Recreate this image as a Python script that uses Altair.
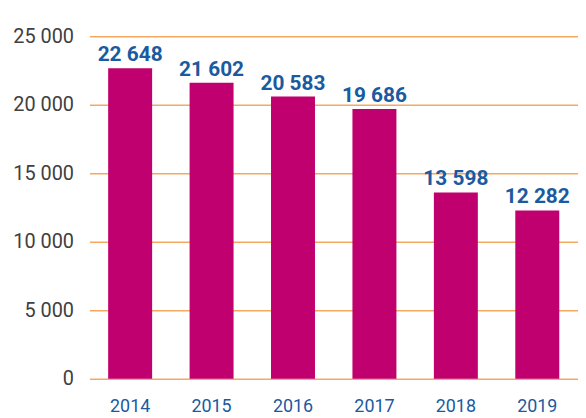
import altair as alt
import pandas as pd

years = ["2014", "2015", "2016", "2017", "2018", "2019"]
values = [22648, 21602, 20583, 19686, 13598, 12282]
labels = ["22 648", "21 602", "20 583", "19 686", "13 598", "12 282"]

df = pd.DataFrame({"year": years, "value": values, "label": labels})

base = alt.Chart(df).encode(
    x=alt.X("year:N", sort=None, title=None,
            scale=alt.Scale(paddingInner=0.46, paddingOuter=0.23),
            axis=alt.Axis(labelAngle=0, labelColor="#1a5aa0", labelFontSize=18,
                          labelFont="Roboto", labelPadding=19, ticks=False,
                          domain=False, grid=False)),
)

bars = base.mark_bar(color="#c0006e").encode(
    y=alt.Y("value:Q", title=None,
            scale=alt.Scale(domain=[0, 25000]),
            axis=alt.Axis(values=[0, 5000, 10000, 15000, 20000, 25000],
                          labelExpr="replace(format(datum.value, ','), ',', ' ')",
                          labelColor="#404040", labelFontSize=20, labelFont="Roboto",
                          labelPadding=16, ticks=False, domain=False,
                          gridColor="#f5a860", gridWidth=1.5, gridOpacity=1)),
)

text = base.mark_text(dy=-7, baseline="alphabetic", fontSize=21, fontWeight="bold",
                      font="Roboto", color="#1a5aa0").encode(
    y="value:Q",
    text="label:N",
)

chart = (bars + text).properties(
    width=492, height=359,
    autosize=alt.AutoSizeParams(type="none"),
    padding={"left": 82, "top": 13, "right": 0, "bottom": 40},
).configure_view(stroke=None)

chart.save("out.html", embed_options={"renderer": "svg", "actions": False})
